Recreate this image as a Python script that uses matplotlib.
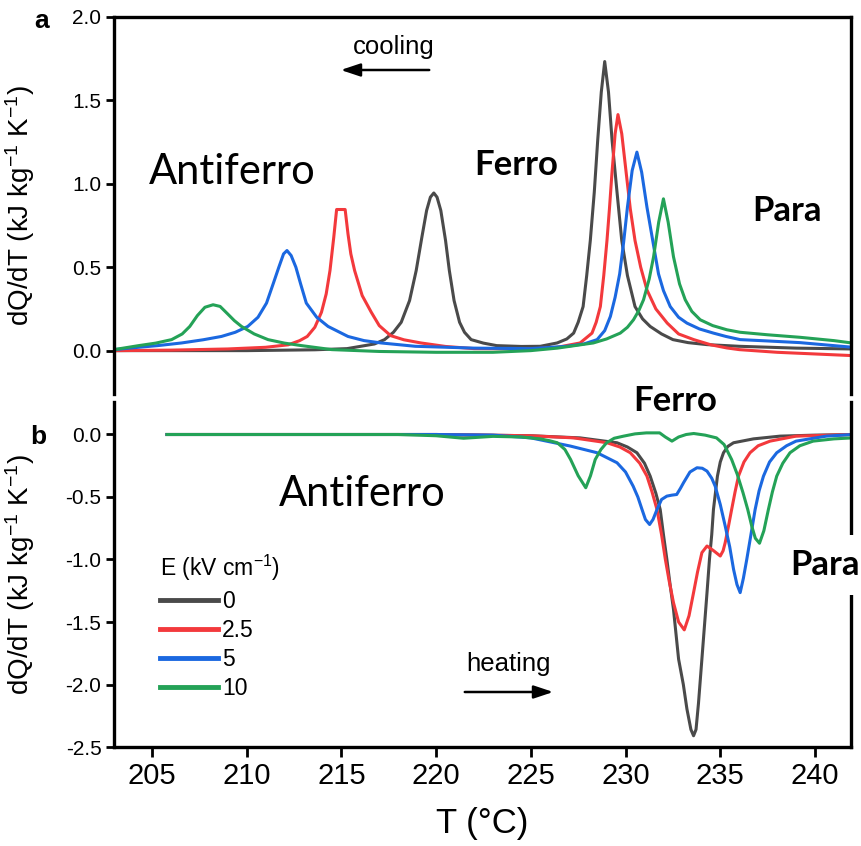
import matplotlib
matplotlib.use("Agg")
import matplotlib.pyplot as plt
from matplotlib.patches import FancyArrowPatch

plt.rcParams['font.family'] = ['Liberation Sans', 'DejaVu Sans']
plt.rcParams['mathtext.fontset'] = 'custom'
plt.rcParams['mathtext.rm'] = 'Liberation Sans'
plt.rcParams['mathtext.it'] = 'Liberation Sans:italic'

# ---------------- data ----------------
field_labels = ["0", "2.5", "5", "10"]
colors = ["#4a4a4a", "#f3393c", "#1b68e0", "#24a257"]

# Panel a: cooling
cool_T_0 = [203.0, 206, 210, 213.6, 215.3, 216.75, 217.28, 217.75, 218.16, 218.6, 218.95, 219.25, 219.5, 219.7,
            219.88, 220.05, 220.25, 220.5, 220.7, 220.95, 221.24, 221.5, 221.85, 222.5, 223.2, 224.5, 225.5,
            226.39, 226.9, 227.26, 227.5, 227.76, 227.95, 228.14, 228.35, 228.53, 228.72, 228.9, 229.1, 229.29,
            229.55, 229.8, 230.1, 230.5, 230.9, 231.3, 231.9, 232.5, 233.3, 234.3, 236.0, 239.0, 242.0]
cool_y_0 = [0.0, 0.0, 0.0, 0.005, 0.012, 0.04, 0.066, 0.11, 0.17, 0.3, 0.48, 0.68, 0.84, 0.92,
            0.945, 0.92, 0.84, 0.66, 0.48, 0.3, 0.17, 0.11, 0.066, 0.045, 0.03, 0.025, 0.026,
            0.046, 0.07, 0.105, 0.17, 0.264, 0.45, 0.66, 0.95, 1.26, 1.55, 1.733, 1.55, 1.26,
            0.95, 0.66, 0.45, 0.264, 0.19, 0.145, 0.1, 0.066, 0.048, 0.036, 0.026, 0.015, 0.01]

cool_T_25 = [203.0, 206, 209, 211, 212.2, 212.8, 213.2, 213.6, 213.95, 214.2, 214.4, 214.6, 214.75, 215.2,
             215.35, 215.5, 215.7, 216.1, 216.58, 217.0, 217.6, 218.3, 219.2, 220.5, 222, 225, 226.4, 227.6,
             228.23, 228.45, 228.67, 228.85, 229.02, 229.15, 229.28, 229.45, 229.6, 229.8, 230.04, 230.25,
             230.5, 230.8, 231.13, 231.6, 232.2, 232.8, 233.6, 234.5, 235.35, 236.0, 238, 240, 242]
cool_y_25 = [0.0, 0.003, 0.01, 0.02, 0.035, 0.06, 0.085, 0.14, 0.23, 0.34, 0.48, 0.68, 0.846, 0.846,
             0.7, 0.58, 0.48, 0.33, 0.23, 0.15, 0.09, 0.065, 0.046, 0.025, 0.012, 0.01, 0.02, 0.046,
             0.105, 0.17, 0.264, 0.45, 0.66, 0.85, 1.06, 1.3, 1.415, 1.3, 1.06, 0.85,
             0.66, 0.5, 0.364, 0.25, 0.165, 0.1, 0.066, 0.035, 0.016, 0.006, -0.01, -0.02, -0.03]

cool_T_5 = [203.0, 203.9, 205.3, 206.57, 207.7, 208.67, 209.4, 210.06, 210.6, 211.05, 211.4, 211.7, 211.95,
            212.13, 212.35, 212.6, 212.85, 213.15, 213.7, 214.3, 215.35, 216.2, 217.1, 218.9, 222, 225,
            226.9, 227.8, 228.5, 228.9, 229.2, 229.45, 229.69, 229.9, 230.1, 230.35, 230.6, 230.85, 231.13,
            231.45, 231.74, 232.0, 232.36, 232.8, 233.24, 233.9, 234.64, 235.3, 236.05, 237.5, 239.2, 241, 242]
cool_y_5 = [0.006, 0.016, 0.03, 0.046, 0.065, 0.085, 0.11, 0.145, 0.2, 0.285, 0.4, 0.5, 0.58,
            0.6, 0.57, 0.5, 0.4, 0.285, 0.2, 0.145, 0.085, 0.06, 0.046, 0.026, 0.015, 0.012,
            0.026, 0.04, 0.066, 0.12, 0.205, 0.32, 0.46, 0.65, 0.86, 1.08, 1.19, 1.07, 0.86,
            0.65, 0.46, 0.36, 0.264, 0.2, 0.165, 0.13, 0.105, 0.085, 0.066, 0.058, 0.048, 0.03, 0.02]

cool_T_10 = [203.0, 204.3, 205.2, 206.04, 206.6, 207.0, 207.4, 207.8, 208.23, 208.6, 209.0, 209.35, 209.73,
             210.4, 211.13, 212.0, 212.9, 214.5, 217, 220, 223, 225, 226.4, 228.3, 229.0, 229.72, 230.1,
             230.42, 230.7, 230.95, 231.25, 231.48, 231.75, 232.0, 232.25, 232.53, 232.85, 233.15, 233.5,
             233.94, 234.6, 235.35, 236.05, 237.5, 239.2, 241, 242]
cool_y_10 = [0.006, 0.03, 0.045, 0.066, 0.1, 0.145, 0.21, 0.26, 0.275, 0.265, 0.22, 0.18, 0.145,
             0.1, 0.066, 0.045, 0.03, 0.006, -0.005, -0.01, -0.01, 0.0, 0.015, 0.046, 0.07, 0.105, 0.14,
             0.185, 0.24, 0.305, 0.43, 0.563, 0.77, 0.91, 0.77, 0.563, 0.4, 0.305, 0.235,
             0.185, 0.15, 0.125, 0.11, 0.095, 0.08, 0.06, 0.045]

# Panel b: heating
heat_T_0 = [205.8, 210, 215, 220, 225, 227.6, 229.55, 230.1, 230.6, 231.0, 231.3, 231.6, 231.83, 232.0,
            232.18, 232.35, 232.53, 232.8, 233.05, 233.24, 233.45, 233.59, 233.72, 233.85, 234.03, 234.3,
            234.43, 234.55, 234.64, 234.85, 235.0, 235.17, 235.4, 235.7, 236.75, 238.16, 240, 242]
heat_y_0 = [0.0, 0.0, 0.0, 0.0, -0.01, -0.027, -0.066, -0.1, -0.146, -0.23, -0.333, -0.47, -0.6, -0.8,
            -0.998, -1.2, -1.398, -1.797, -2.0, -2.196, -2.36, -2.41, -2.36, -2.15, -1.797, -1.265,
            -0.998, -0.8, -0.6, -0.333, -0.22, -0.146, -0.095, -0.066, -0.035, -0.013, -0.005, 0.0]

heat_T_25 = [205.8, 210, 215, 220, 225, 227.26, 229.02, 229.7, 230.25, 230.75, 231.13, 231.4, 231.66, 231.9,
             232.1, 232.3, 232.53, 232.8, 233.1, 233.35, 233.59, 233.8, 234.03, 234.3, 234.65, 235.0,
             235.15, 235.26, 235.45, 235.6, 235.78, 235.96, 236.25, 236.57, 237.0, 237.63, 239.0, 242]
heat_y_25 = [0.0, 0.0, 0.0, 0.0, -0.01, -0.027, -0.066, -0.1, -0.146, -0.23, -0.333, -0.46, -0.6, -0.8,
             -0.998, -1.17, -1.345, -1.5, -1.563, -1.45, -1.265, -1.1, -0.945, -0.892, -0.93, -0.972,
             -0.93, -0.865, -0.72, -0.6, -0.46, -0.333, -0.22, -0.146, -0.09, -0.053, -0.013, 0.0]

heat_T_5 = [205.8, 210, 215, 220, 223, 225.0, 227.1, 228.5, 229.55, 230.0, 230.4, 230.65, 230.87, 231.05,
            231.27, 231.45, 231.66, 231.9, 232.18, 232.45, 232.7, 232.9, 233.06, 233.4, 233.77, 234.05,
            234.3, 234.55, 234.73, 235.0, 235.26, 235.5, 235.7, 235.88, 236.05, 236.22, 236.4, 236.62,
            236.84, 237.05, 237.28, 237.6, 237.98, 238.5, 239.0, 240.6, 242]
heat_y_5 = [0.0, 0.0, 0.0, 0.0, -0.005, -0.027, -0.093, -0.146, -0.226, -0.3, -0.413, -0.5, -0.6, -0.68,
            -0.72, -0.68, -0.6, -0.52, -0.493, -0.485, -0.48, -0.43, -0.386, -0.3, -0.266, -0.27,
            -0.293, -0.35, -0.413, -0.56, -0.732, -0.9, -1.078, -1.2, -1.265, -1.15, -0.998, -0.8,
            -0.6, -0.45, -0.333, -0.22, -0.146, -0.09, -0.053, -0.013, 0.0]

heat_T_10 = [205.8, 210, 215, 218, 220, 221.45, 223, 224.5, 225.5, 226.0, 226.4, 226.8, 227.1, 227.5, 227.9,
             228.15, 228.4, 228.7, 229.0, 229.4, 229.9, 230.5, 231.1, 231.8, 232.1, 232.45, 232.8, 233.2,
             233.6, 234.2, 234.8, 235.2, 235.6, 235.9, 236.2, 236.45, 236.66, 236.85, 237.07, 237.3,
             237.54, 237.75, 237.98, 238.3, 238.68, 239.2, 239.9, 241, 242]
heat_y_10 = [0.0, 0.0, 0.0, 0.0, -0.01, -0.03, -0.015, -0.02, -0.035, -0.05, -0.066, -0.12, -0.2, -0.33, -0.426,
             -0.33, -0.2, -0.12, -0.066, -0.03, -0.013, 0.005, 0.013, 0.013, -0.02, -0.053, -0.02, 0.0,
             0.008, -0.005, -0.027, -0.08, -0.2, -0.32, -0.466, -0.6, -0.732, -0.83, -0.87, -0.77,
             -0.6, -0.46, -0.333, -0.23, -0.146, -0.09, -0.053, -0.035, -0.027]

x_ticks = [205, 210, 215, 220, 225, 230, 235, 240]
y_ticks_a = [0.0, 0.5, 1.0, 1.5, 2.0]
y_ticks_b = [0.0, -0.5, -1.0, -1.5, -2.0, -2.5]

cool_T = [cool_T_0, cool_T_25, cool_T_5, cool_T_10]
cool_y = [cool_y_0, cool_y_25, cool_y_5, cool_y_10]
heat_T = [heat_T_0, heat_T_25, heat_T_5, heat_T_10]
heat_y = [heat_y_0, heat_y_25, heat_y_5, heat_y_10]

# ---------------- figure ----------------
W, H = 862, 846
fig = plt.figure(figsize=(W / 100, H / 100), dpi=100)


def fx(px):
    return px / W


def fy(py):
    return 1 - py / H


ax1 = fig.add_axes([fx(114), fy(394), fx(851) - fx(114), fy(17) - fy(394)])
ax2 = fig.add_axes([fx(114), fy(747), fx(851) - fx(114), fy(402) - fy(747)])

for T, y, c in zip(cool_T, cool_y, colors):
    ax1.plot(T, y, color=c, lw=2.2, solid_joinstyle='round')
for T, y, c, lab in zip(heat_T, heat_y, colors, field_labels):
    ax2.plot(T, y, color=c, lw=2.2, solid_joinstyle='round', label=lab)

xlim = (203.0, 241.9)
ax1.set_xlim(*xlim)
ax2.set_xlim(*xlim)
ax1.set_ylim(-0.26, 2.0)
ax2.set_ylim(-2.5, 0.26)

for ax in (ax1, ax2):
    for s in ax.spines.values():
        s.set_linewidth(2.4)
    ax.tick_params(axis='y', direction='out', length=6, width=2, labelsize=15, pad=3)
ax1.spines['bottom'].set_visible(False)
ax2.spines['top'].set_visible(False)

ax1.set_xticks([])
ax1.set_yticks(y_ticks_a)
ax1.set_yticklabels([f"{v:.1f}" for v in y_ticks_a])
ax2.set_yticks(y_ticks_b)
ax2.set_yticklabels([f"{v:.1f}" for v in y_ticks_b])
ax2.set_xticks(x_ticks)
ax2.tick_params(axis='x', direction='out', length=7, width=2, labelsize=21, pad=4)
ax2.set_xlabel("T (°C)", fontsize=25, labelpad=12)

ylab = "dQ/dT (kJ kg$^{-1}$ K$^{-1}$)"
for ax in (ax1, ax2):
    ax.set_ylabel(ylab, fontsize=20)
    ax.yaxis.set_label_coords(-(114 - 37) / (851 - 114), 0.5)

# panel letters
fig.text(fx(42), fy(21), "a", fontsize=19, fontweight='bold', ha='center', va='center')
fig.text(fx(38), fy(437), "b", fontsize=19, fontweight='bold', ha='center', va='center')

# annotations
cal = ['Lato', 'DejaVu Sans']
fig.text(fx(232), fy(172), "Antiferro", fontsize=30, family=cal, ha='center', va='center')
fig.text(fx(516), fy(165), "Ferro", fontsize=25, family=cal, fontweight='bold', ha='center', va='center')
fig.text(fx(787), fy(211), "Para", fontsize=25, family=cal, fontweight='bold', ha='center', va='center')
fig.text(fx(675), fy(401), "Ferro", fontsize=25, family=cal, fontweight='bold', ha='center', va='center')
fig.text(fx(362), fy(494), "Antiferro", fontsize=30, family=cal, ha='center', va='center')
fig.text(fx(825), fy(565), "Para", fontsize=25, family=cal, fontweight='bold', ha='center', va='center',
         bbox=dict(facecolor='white', edgecolor='none', pad=10), zorder=10)

fig.text(fx(394), fy(47), "cooling", fontsize=18.5, ha='center', va='center')
fig.text(fx(509), fy(664), "heating", fontsize=18.5, ha='center', va='center')
astyle = '-|>,head_length=0.9,head_width=0.3'
fig.add_artist(FancyArrowPatch((fx(432), fy(70)), (fx(338), fy(70)), transform=fig.transFigure,
                               mutation_scale=13, arrowstyle=astyle, color='black', lw=1.8))
fig.add_artist(FancyArrowPatch((fx(462), fy(692)), (fx(556), fy(692)), transform=fig.transFigure,
                               mutation_scale=13, arrowstyle=astyle, color='black', lw=1.8))

leg = ax2.legend(title="E (kV cm$^{-1}$)", loc='upper left',
                 bbox_to_anchor=(fx(158), fy(551)), bbox_transform=fig.transFigure,
                 frameon=False, fontsize=16.5, title_fontsize=16.5, handlelength=2.5,
                 handletextpad=0.2, labelspacing=0.27, alignment='left', borderpad=0.1,
                 borderaxespad=0)
for h in leg.get_lines():
    h.set_linewidth(3.5)

fig.savefig("out.png", dpi=100)
